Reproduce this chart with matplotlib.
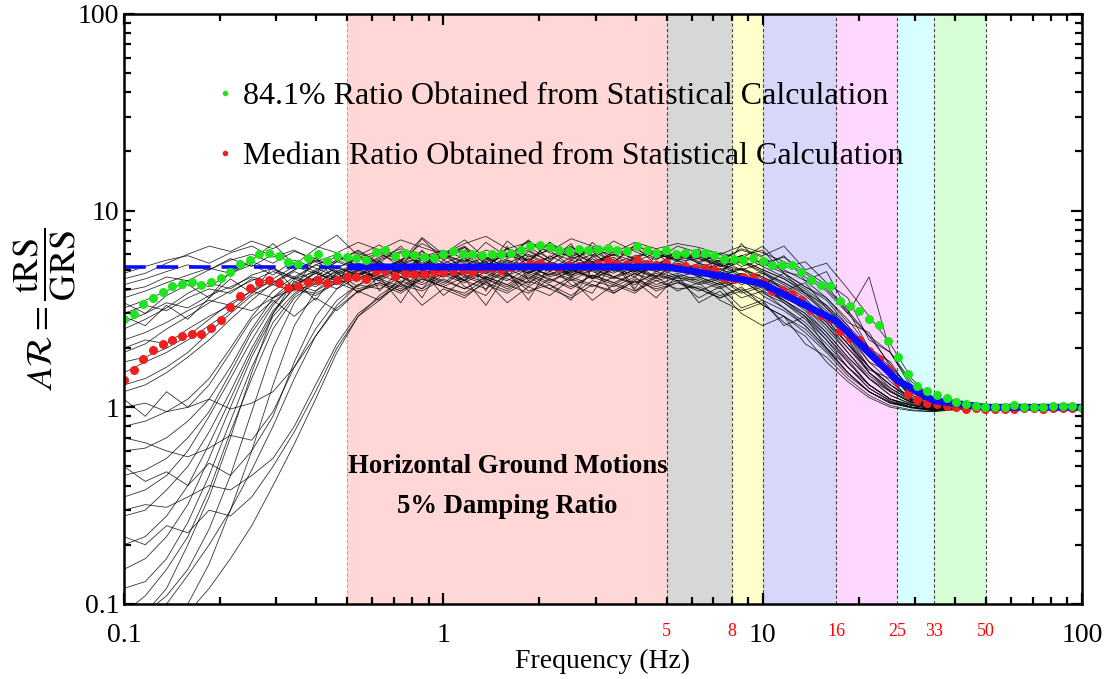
import numpy as np
import matplotlib
matplotlib.use("Agg")
import matplotlib.pyplot as plt
from matplotlib.lines import Line2D
from matplotlib.ticker import LogLocator, NullFormatter

plt.rcParams['font.family'] = ['Liberation Serif', 'DejaVu Serif']
plt.rcParams['mathtext.fontset'] = 'stix'

# frequency grids (Hz)
freq_dots = np.logspace(-1, 2, 100)
freq_rec = np.logspace(-1, 2, 46)

# 84.1% ratio (green)
ratio_841 = [2.80, 2.99, 3.34, 3.61, 3.84, 4.12, 4.24, 4.31, 4.17, 4.34,
             4.53, 4.87, 5.38, 5.63, 5.99, 6.09, 5.91, 5.50, 5.35, 5.74,
             5.99, 5.54, 5.86, 5.80, 5.74, 5.63, 6.16, 6.30, 5.90, 6.09,
             5.93, 5.81, 5.77, 6.04, 6.23, 6.04, 6.04, 5.93, 6.04, 6.04,
             6.10, 6.30, 6.60, 6.70, 6.50, 6.30, 6.20, 6.40, 6.30, 6.41,
             6.49, 6.28, 6.21, 6.61, 6.28, 6.12, 6.28, 5.99, 6.12, 6.12,
             6.12, 5.93, 5.70, 5.70, 5.63, 5.74, 5.54, 5.32, 5.32, 5.27,
             4.87, 4.46, 4.17, 4.12, 3.46, 3.29, 3.08, 2.80, 2.63, 2.17,
             1.80, 1.47, 1.28, 1.21, 1.15, 1.11, 1.06, 1.04, 1.015, 1.00,
             1.00, 1.00, 1.03, 1.00, 1.00, 1.00, 1.02, 1.01, 1.01, 0.995]

# median ratio (red)
ratio_med = [1.38, 1.55, 1.75, 1.95, 2.09, 2.21, 2.30, 2.37, 2.37, 2.54,
             2.79, 3.23, 3.68, 4.06, 4.34, 4.46, 4.29, 4.06, 4.12, 4.34,
             4.46, 4.29, 4.46, 4.60, 4.60, 4.51, 4.93, 4.93, 4.67, 4.82,
             4.78, 4.74, 4.87, 4.87, 4.95, 5.00, 4.90, 5.05, 5.10, 5.00,
             5.15, 5.20, 5.35, 5.40, 5.20, 5.10, 5.30, 5.25, 5.20, 5.38,
             5.52, 5.38, 5.38, 5.59, 5.38, 5.27, 5.44, 5.17, 5.21, 5.13,
             5.13, 4.97, 4.54, 4.51, 4.60, 4.60, 4.34, 3.89, 3.97, 3.78,
             3.53, 3.11, 2.94, 2.82, 2.43, 2.26, 2.19, 1.93, 1.77, 1.57,
             1.34, 1.17, 1.09, 1.05, 1.035, 1.015, 1.00, 0.985, 0.995, 0.985,
             0.985, 0.985, 0.985, 0.99, 0.99, 0.985, 0.99, 0.99, 0.99, 0.99]

# target ratio (blue)
target_f = [0.1, 0.5, 5, 8, 10, 17, 26.4, 34.4, 50, 100]
target_r = [5.17, 5.17, 5.17, 4.56, 4.25, 2.75, 1.37, 1.08, 1.0, 1.0]

# individual records (black), sampled on freq_rec
records = [
    [4.8, 5.2, 5.6, 5.9, 5.4, 6.1, 6.6, 5.8, 6.3, 5.5, 6.0, 5.2, 5.8, 6.4, 5.1, 5.9, 6.6, 5.3, 6.0, 5.5, 6.9, 5.7, 6.2, 5.0, 5.8, 6.3, 5.6, 5.9, 5.2, 5.5, 4.8, 4.2, 3.6, 2.7, 2.1, 1.6, 1.3, 1.12, 1.04, 1.01, 1.0, 0.99, 1.0, 1.01, 1.0, 1.0],
    [4.2, 4.5, 4.9, 5.3, 5.0, 5.7, 5.2, 6.0, 5.4, 4.9, 5.6, 6.2, 5.3, 4.8, 5.7, 6.1, 5.0, 5.5, 4.6, 5.9, 5.2, 6.3, 5.4, 5.8, 4.9, 5.3, 6.0, 5.4, 4.9, 5.6, 5.0, 4.5, 3.8, 3.1, 2.3, 1.7, 1.35, 1.1, 1.03, 1.0, 1.0, 1.01, 0.99, 1.0, 1.0, 1.0],
    [3.6, 3.9, 4.3, 4.7, 5.1, 4.8, 5.5, 5.0, 4.6, 5.3, 4.9, 4.4, 5.0, 5.6, 4.7, 5.2, 4.4, 5.8, 5.1, 4.5, 5.4, 4.9, 5.7, 5.0, 4.6, 5.5, 5.2, 4.8, 5.3, 4.6, 4.9, 3.9, 4.3, 3.2, 2.5, 1.9, 1.45, 1.15, 1.05, 1.02, 1.0, 1.0, 1.01, 0.99, 1.0, 1.0],
    [3.2, 3.5, 3.9, 4.4, 4.1, 4.8, 5.3, 4.7, 5.6, 5.1, 4.6, 5.0, 4.5, 5.1, 5.7, 4.8, 5.3, 4.4, 5.0, 6.2, 5.5, 4.7, 5.2, 6.0, 5.1, 4.6, 5.4, 5.0, 4.4, 4.8, 4.1, 3.5, 3.0, 2.4, 1.8, 1.4, 1.2, 1.06, 1.0, 0.99, 1.0, 1.0, 1.0, 1.0, 0.99, 1.0],
    [3.0, 3.3, 3.1, 3.6, 4.0, 3.8, 4.5, 4.2, 4.9, 4.4, 5.2, 4.7, 5.4, 4.9, 4.3, 5.6, 5.0, 4.6, 5.3, 4.8, 5.9, 5.2, 4.5, 5.0, 5.6, 4.9, 5.3, 4.6, 4.9, 4.2, 4.5, 3.8, 3.3, 2.9, 2.2, 1.5, 1.25, 1.08, 1.02, 1.0, 1.01, 1.0, 1.0, 0.99, 1.0, 1.0],
    [2.7, 3.0, 3.4, 3.2, 3.7, 4.1, 4.6, 4.3, 5.0, 5.5, 4.8, 5.3, 4.9, 5.5, 6.0, 5.2, 5.7, 5.1, 6.4, 5.6, 5.0, 5.8, 6.5, 5.4, 5.9, 6.1, 5.5, 5.7, 5.3, 5.0, 5.4, 4.8, 4.1, 3.5, 2.6, 2.0, 1.7, 1.18, 1.06, 1.02, 1.01, 1.0, 1.0, 1.0, 1.0, 1.0],
    [2.5, 2.8, 3.2, 3.8, 4.3, 4.0, 4.7, 5.1, 4.5, 4.9, 4.2, 4.8, 4.4, 4.0, 4.7, 4.2, 4.9, 4.5, 4.1, 4.8, 4.3, 5.0, 4.6, 4.2, 4.8, 4.4, 4.7, 4.3, 4.6, 3.9, 4.2, 3.4, 2.9, 2.2, 1.7, 1.3, 1.1, 1.03, 0.98, 0.99, 1.0, 1.0, 0.99, 1.0, 1.0, 1.0],
    [3.9, 4.1, 4.6, 4.4, 5.0, 5.6, 6.0, 5.4, 6.2, 5.7, 5.1, 5.8, 6.2, 5.6, 6.8, 6.0, 5.5, 6.3, 5.8, 7.0, 6.1, 5.6, 6.4, 5.9, 6.6, 6.0, 5.7, 6.1, 5.7, 6.3, 5.8, 5.0, 4.4, 3.6, 2.8, 2.0, 1.6, 1.1, 1.03, 1.0, 1.0, 1.0, 1.01, 1.0, 1.0, 1.0],
    [2.2, 2.4, 2.7, 3.1, 3.5, 3.3, 3.9, 4.4, 4.1, 4.8, 4.4, 5.0, 4.6, 5.2, 4.8, 4.3, 5.0, 5.5, 4.7, 5.1, 4.4, 4.9, 5.4, 4.6, 5.0, 4.5, 4.8, 4.4, 4.0, 4.5, 3.7, 3.2, 2.6, 2.0, 1.5, 1.2, 1.06, 1.0, 0.98, 0.99, 1.0, 1.0, 1.0, 1.0, 1.0, 1.0],
    [1.9, 2.1, 2.5, 2.9, 3.4, 3.9, 4.4, 4.9, 4.5, 5.3, 5.8, 5.2, 5.7, 6.2, 5.4, 5.9, 6.5, 5.6, 6.1, 5.3, 5.8, 6.6, 5.5, 6.0, 6.4, 5.7, 6.1, 5.5, 6.0, 5.2, 5.6, 4.9, 4.6, 3.9, 3.0, 2.3, 1.9, 1.3, 1.08, 1.03, 1.01, 1.0, 1.0, 1.0, 1.0, 1.0],
    [1.7, 1.8, 2.0, 2.3, 2.8, 3.4, 3.9, 3.6, 4.2, 3.9, 4.5, 4.0, 4.3, 3.9, 4.6, 4.1, 3.8, 4.5, 4.0, 4.7, 4.2, 3.7, 4.4, 4.1, 4.6, 3.9, 4.3, 4.0, 3.6, 4.1, 3.3, 2.9, 2.4, 1.9, 1.45, 1.2, 1.05, 1.0, 0.97, 0.98, 0.99, 1.0, 1.0, 1.0, 1.0, 1.0],
    [1.5, 1.7, 1.9, 2.2, 2.6, 3.1, 3.8, 4.5, 5.2, 4.8, 5.5, 5.0, 5.5, 4.9, 5.3, 5.9, 5.1, 4.8, 5.6, 5.2, 4.7, 5.4, 6.0, 5.3, 4.9, 5.5, 5.1, 5.3, 4.8, 5.1, 4.5, 4.0, 3.3, 2.7, 2.0, 1.55, 1.4, 1.07, 1.02, 1.0, 1.0, 0.99, 1.0, 1.0, 1.0, 1.0],
    [1.3, 1.4, 1.6, 1.9, 2.4, 3.0, 3.7, 4.2, 3.9, 4.6, 4.2, 4.7, 5.1, 4.6, 5.3, 4.9, 4.4, 5.1, 5.6, 4.9, 5.2, 4.6, 5.0, 5.4, 4.8, 5.2, 5.0, 4.7, 5.1, 4.4, 4.8, 4.3, 3.7, 3.0, 2.3, 1.6, 1.3, 1.1, 1.02, 1.01, 1.0, 1.0, 1.0, 0.99, 1.0, 1.0],
    [2.0, 2.2, 2.1, 2.5, 2.9, 3.3, 3.1, 3.6, 4.0, 3.8, 4.3, 4.8, 4.4, 5.0, 4.6, 5.2, 4.7, 4.3, 4.9, 5.3, 4.6, 5.0, 4.5, 5.1, 4.7, 5.2, 4.6, 4.9, 4.3, 4.7, 4.0, 3.6, 3.2, 2.5, 1.9, 1.4, 1.15, 1.03, 0.99, 1.0, 1.0, 1.0, 1.0, 1.0, 0.99, 1.0],
    [1.2, 1.3, 1.5, 1.8, 2.2, 2.8, 3.5, 4.3, 5.0, 5.6, 5.1, 5.7, 6.0, 5.4, 5.8, 6.3, 5.7, 5.2, 6.1, 5.6, 6.4, 5.8, 5.3, 6.2, 5.7, 6.3, 5.9, 5.8, 5.4, 5.9, 5.2, 4.6, 4.0, 3.3, 2.5, 1.8, 1.55, 1.12, 1.04, 1.01, 1.0, 1.0, 1.0, 1.0, 1.0, 1.0],
    [0.8, 0.85, 0.95, 1.1, 1.4, 2.0, 2.9, 3.9, 4.6, 4.2, 5.0, 4.5, 4.9, 5.4, 4.7, 5.2, 4.6, 5.0, 5.5, 4.8, 5.3, 4.7, 5.1, 4.6, 5.2, 4.9, 5.3, 5.0, 4.5, 4.8, 4.2, 3.7, 3.1, 2.4, 1.8, 1.4, 1.15, 1.04, 1.0, 1.0, 1.0, 1.0, 1.0, 1.0, 1.0, 1.0],
    [0.6, 0.62, 0.7, 0.85, 1.1, 1.6, 2.5, 3.6, 4.5, 4.1, 4.7, 5.3, 4.8, 5.3, 5.8, 5.1, 5.6, 4.9, 5.4, 6.0, 5.3, 4.8, 5.5, 5.0, 5.7, 5.2, 4.9, 5.4, 5.0, 5.5, 4.9, 4.3, 3.8, 3.0, 2.2, 1.6, 1.3, 1.08, 1.02, 1.0, 0.99, 1.0, 1.0, 1.0, 1.0, 1.0],
    [0.45, 0.48, 0.55, 0.7, 0.95, 1.5, 2.4, 3.4, 4.2, 4.8, 4.4, 4.9, 4.5, 4.1, 4.8, 4.4, 4.0, 4.6, 4.2, 4.9, 4.5, 4.0, 4.7, 4.3, 4.8, 4.2, 4.6, 4.2, 4.5, 3.8, 4.1, 3.5, 2.9, 2.3, 1.7, 1.3, 1.1, 1.02, 0.98, 0.99, 1.0, 1.0, 1.0, 1.0, 1.0, 1.0],
    [0.35, 0.38, 0.45, 0.6, 0.9, 1.4, 2.2, 3.3, 4.3, 5.0, 5.6, 5.1, 5.6, 6.1, 5.3, 5.8, 6.3, 5.5, 5.9, 6.5, 5.7, 6.2, 5.4, 6.0, 5.5, 6.1, 5.8, 6.0, 5.5, 5.9, 5.4, 5.8, 4.9, 4.2, 3.0, 4.6, 1.9, 1.25, 1.05, 1.02, 1.0, 1.0, 1.0, 1.0, 1.0, 1.0],
    [0.28, 0.3, 0.38, 0.5, 0.75, 1.2, 2.0, 3.1, 4.0, 3.7, 4.3, 3.9, 4.2, 3.8, 4.5, 4.1, 3.7, 4.3, 3.9, 4.6, 4.0, 3.6, 4.2, 3.8, 4.4, 4.0, 4.3, 3.9, 4.3, 3.6, 3.9, 3.2, 2.7, 2.1, 1.6, 1.25, 1.08, 1.0, 0.97, 0.98, 0.99, 1.0, 1.0, 1.0, 1.0, 1.0],
    [0.2, 0.22, 0.28, 0.4, 0.65, 1.1, 1.9, 3.0, 4.1, 4.9, 4.5, 5.2, 5.0, 5.5, 5.0, 4.6, 5.3, 5.8, 5.1, 5.4, 4.9, 5.6, 5.2, 4.8, 5.5, 5.0, 5.4, 5.1, 5.6, 5.0, 4.6, 4.1, 3.5, 2.8, 2.1, 1.5, 1.2, 1.06, 1.01, 1.0, 1.0, 1.0, 1.0, 1.0, 1.0, 1.0],
    [0.15, 0.17, 0.22, 0.32, 0.55, 1.0, 1.8, 2.9, 3.8, 4.4, 4.0, 4.6, 4.7, 4.3, 5.0, 4.6, 5.2, 4.8, 4.4, 5.1, 4.7, 5.3, 4.9, 4.5, 5.0, 4.6, 5.1, 4.6, 4.2, 4.7, 4.3, 3.9, 3.4, 2.6, 1.9, 1.45, 1.2, 1.05, 1.0, 1.0, 1.0, 1.0, 0.99, 1.0, 1.0, 1.0],
    [0.12, 0.13, 0.17, 0.26, 0.45, 0.85, 1.6, 2.7, 3.7, 4.5, 5.1, 4.7, 5.3, 4.8, 5.6, 5.1, 4.7, 5.4, 5.0, 5.7, 5.2, 4.8, 5.5, 5.1, 5.8, 5.3, 5.0, 5.2, 4.7, 5.0, 4.4, 3.8, 3.2, 2.6, 2.0, 1.5, 1.22, 1.06, 1.01, 1.0, 1.0, 1.0, 1.0, 1.0, 1.0, 1.0],
    [0.09, 0.11, 0.15, 0.22, 0.38, 0.75, 1.4, 2.5, 3.6, 4.3, 4.9, 5.4, 5.0, 5.6, 6.2, 5.4, 5.9, 5.2, 5.7, 6.3, 5.5, 5.0, 5.8, 6.4, 5.6, 5.2, 5.9, 5.7, 5.2, 5.6, 5.0, 4.5, 3.9, 3.2, 2.4, 1.7, 1.5, 1.1, 1.03, 1.01, 1.0, 1.0, 1.0, 1.0, 1.0, 1.0],
    [0.06, 0.075, 0.1, 0.14, 0.2, 0.3, 0.48, 0.8, 1.4, 2.3, 3.3, 4.2, 4.0, 4.6, 4.2, 4.8, 4.4, 4.0, 4.7, 4.3, 4.9, 4.5, 4.1, 4.6, 4.3, 4.8, 4.4, 4.5, 4.1, 4.4, 3.8, 3.4, 2.8, 2.2, 1.6, 1.25, 1.07, 1.0, 0.97, 0.99, 1.0, 1.0, 1.0, 1.0, 1.0, 1.0],
    [0.3, 0.32, 0.31, 0.35, 0.4, 0.38, 0.45, 0.55, 0.8, 1.3, 2.1, 3.0, 3.6, 4.2, 3.9, 4.5, 4.0, 4.6, 4.2, 3.8, 4.5, 4.1, 4.7, 4.3, 3.9, 4.4, 4.0, 4.1, 3.7, 4.0, 3.5, 3.1, 2.6, 2.0, 1.5, 1.2, 1.05, 0.99, 0.96, 0.98, 1.0, 1.0, 1.0, 1.0, 1.0, 1.0],
    [0.05, 0.06, 0.07, 0.09, 0.12, 0.17, 0.25, 0.4, 0.65, 1.1, 1.9, 2.9, 3.7, 4.4, 4.0, 4.7, 4.3, 4.9, 4.5, 4.1, 4.8, 4.4, 5.0, 4.6, 4.2, 4.9, 4.5, 4.6, 4.2, 4.5, 3.9, 3.5, 3.0, 2.3, 1.75, 1.3, 1.1, 1.02, 0.99, 1.0, 1.0, 1.0, 1.0, 1.0, 1.0, 1.0],
    [1.0, 1.05, 0.95, 1.0, 1.1, 0.98, 1.05, 1.2, 1.6, 2.3, 3.2, 3.9, 4.3, 3.9, 4.5, 4.1, 4.6, 4.2, 3.8, 4.4, 4.0, 4.6, 4.2, 3.9, 4.5, 4.1, 4.4, 4.0, 3.6, 3.9, 3.3, 2.9, 2.5, 1.95, 1.5, 1.2, 1.05, 1.0, 0.97, 0.98, 0.99, 1.0, 1.0, 1.0, 1.0, 1.0],
    [0.7, 0.66, 0.6, 0.56, 0.62, 0.72, 0.68, 0.95, 1.6, 2.5, 3.5, 4.2, 4.6, 5.1, 4.7, 5.4, 4.9, 4.5, 5.2, 4.8, 5.5, 5.0, 4.6, 5.3, 4.9, 5.5, 5.1, 5.0, 4.6, 5.1, 4.6, 4.0, 3.4, 2.8, 2.1, 1.6, 1.25, 1.08, 1.02, 1.0, 1.0, 1.0, 1.0, 1.0, 1.0, 1.0],
    [4.5, 4.8, 5.4, 6.0, 6.6, 6.2, 7.0, 6.4, 7.3, 6.6, 6.1, 6.9, 6.3, 7.1, 6.5, 6.0, 6.8, 7.4, 6.4, 6.9, 6.2, 7.2, 6.6, 6.1, 6.9, 6.4, 6.8, 6.5, 6.0, 6.6, 6.1, 5.5, 4.8, 4.0, 3.1, 2.3, 1.65, 1.2, 1.06, 1.02, 1.01, 1.0, 1.0, 1.0, 1.0, 1.0],
    [0.04, 0.05, 0.07, 0.1, 0.16, 0.3, 0.6, 1.3, 2.6, 3.9, 4.8, 4.1, 5.6, 4.2, 6.3, 4.6, 5.9, 3.9, 6.6, 4.4, 5.5, 6.8, 4.5, 5.7, 4.0, 6.1, 5.0, 6.4, 4.6, 6.8, 5.2, 5.9, 4.4, 4.9, 3.1, 2.0, 1.5, 1.2, 1.05, 1.0, 1.02, 0.98, 1.0, 1.0, 1.0, 1.0],
    [2.9, 2.6, 3.3, 2.8, 3.6, 4.5, 3.8, 5.2, 4.0, 5.8, 4.3, 6.1, 3.9, 5.0, 3.6, 5.4, 4.1, 3.7, 4.9, 3.5, 5.3, 4.2, 3.8, 5.5, 3.9, 4.7, 4.4, 3.6, 4.1, 3.2, 3.5, 2.6, 2.9, 2.0, 1.6, 1.3, 1.1, 1.0, 0.96, 0.99, 1.0, 1.0, 1.0, 0.99, 1.0, 1.0],
    [0.5, 0.42, 0.47, 0.4, 0.52, 0.45, 0.6, 0.9, 1.7, 2.9, 4.0, 5.0, 6.2, 5.1, 7.2, 5.6, 6.5, 5.0, 7.0, 5.8, 6.3, 5.2, 6.9, 5.5, 6.6, 5.3, 6.2, 5.4, 6.1, 5.7, 6.6, 5.1, 5.5, 4.3, 3.6, 2.2, 1.9, 1.35, 1.12, 1.04, 1.01, 1.0, 1.0, 1.0, 1.0, 1.0],
    [0.07, 0.09, 0.12, 0.2, 0.35, 0.7, 1.5, 3.0, 4.4, 3.5, 4.9, 3.8, 4.6, 3.4, 5.0, 3.7, 4.5, 3.3, 4.8, 3.9, 4.2, 3.5, 5.1, 3.8, 4.4, 3.6, 4.7, 3.4, 3.9, 3.0, 2.6, 2.9, 2.1, 1.8, 1.4, 1.15, 1.02, 0.97, 0.95, 0.98, 0.99, 1.0, 1.0, 1.0, 1.0, 1.0],
    [3.4, 3.0, 3.7, 4.2, 3.6, 4.9, 5.6, 6.8, 5.3, 6.4, 7.5, 5.9, 6.7, 5.5, 7.3, 6.0, 5.4, 6.9, 5.8, 7.1, 5.6, 6.5, 5.9, 7.0, 6.2, 5.6, 6.6, 6.1, 5.5, 6.4, 5.9, 6.6, 5.0, 5.4, 4.0, 2.9, 2.1, 1.4, 1.1, 1.03, 1.01, 1.0, 1.0, 1.0, 1.0, 1.0],
    [1.1, 0.9, 1.2, 1.0, 1.3, 1.9, 2.8, 3.5, 2.9, 3.6, 3.1, 3.9, 3.5, 4.3, 3.3, 4.0, 3.6, 4.4, 3.4, 4.1, 3.7, 4.5, 3.5, 4.2, 3.8, 4.6, 3.9, 4.3, 3.5, 3.1, 3.4, 2.7, 2.3, 1.7, 1.35, 1.12, 1.0, 0.96, 0.95, 0.97, 0.99, 1.0, 1.0, 1.0, 1.0, 1.0],
    [0.22, 0.2, 0.25, 0.23, 0.3, 0.28, 0.35, 0.5, 0.75, 1.2, 2.0, 2.9, 3.5, 4.6, 4.0, 5.3, 4.4, 5.7, 4.8, 4.2, 5.5, 4.6, 5.9, 4.9, 5.3, 4.6, 5.6, 4.9, 5.4, 4.7, 4.2, 4.8, 3.8, 3.3, 2.6, 1.8, 1.45, 1.15, 1.06, 1.02, 1.0, 1.0, 1.0, 1.0, 1.0, 1.0],
    [0.08, 0.09, 0.11, 0.15, 0.24, 0.45, 0.95, 2.0, 3.4, 4.6, 5.5, 6.3, 5.4, 6.6, 5.2, 6.0, 7.1, 5.7, 6.4, 5.5, 6.9, 5.9, 6.3, 5.4, 6.7, 6.0, 5.6, 6.2, 5.3, 5.9, 6.3, 4.8, 4.1, 3.6, 2.7, 2.4, 1.6, 1.25, 1.08, 1.03, 1.0, 1.0, 1.0, 1.0, 1.0, 1.0],
]

# frequency bands
band_edges = [0.5, 5, 8, 10, 17, 26.4, 34.4, 50]
band_colors = ['#ffd7d7', '#d7d7d7', '#ffffcc', '#d7d7fa', '#fdd7ff', '#d7ffff', '#d7fdd7']
label_f = [5, 8, 17, 26.4, 34.4, 50]
band_labels = ['5', '8', '16', '25', '33', '50']

fig = plt.figure(figsize=(11.12, 6.79), dpi=100)
ax = fig.add_axes([0.1115, 0.1105, 0.8615, 0.869])

for i in range(len(band_colors)):
    ax.axvspan(band_edges[i], band_edges[i + 1], color=band_colors[i], lw=0, zorder=0)
for i, e in enumerate(band_edges):
    ax.axvline(e, color='#aaaaaa' if i == 0 else '#444444', lw=0.8, ls=(0, (3, 2)), zorder=1)

for rec in records:
    ax.plot(freq_rec, rec, color='black', lw=0.6, alpha=0.8, zorder=2)

ax.plot(freq_dots, ratio_med, 'o', color='#f01e1e', ms=6.5, mew=0, zorder=3)
# target spectrum ratio: dashed below 0.5 Hz, solid above
ax.plot(target_f[:2], target_r[:2], color='#0a0aff', lw=2.6, dashes=(6, 3), zorder=4)
ax.plot(target_f[1:], target_r[1:], color='#0a0aff', lw=5.0, zorder=4,
        solid_capstyle='butt')
ax.plot(freq_dots, ratio_841, 'o', color='#1ee61e', ms=6.5, mew=0, zorder=5)

ax.set_xscale('log')
ax.set_yscale('log')
ax.set_xlim(0.1, 100)
ax.set_ylim(0.1, 100)

ax.set_xticks([0.1, 1, 10, 100])
ax.set_xticklabels(['0.1', '1', '10', '100'])
ax.set_yticks([0.1, 1, 10, 100])
ax.set_yticklabels(['0.1', '1', '10', '100'])
ax.xaxis.set_minor_locator(LogLocator(base=10, subs=np.arange(2, 10)))
ax.yaxis.set_minor_locator(LogLocator(base=10, subs=np.arange(2, 10)))
ax.xaxis.set_minor_formatter(NullFormatter())
ax.yaxis.set_minor_formatter(NullFormatter())
ax.tick_params(which='both', direction='in', top=True, right=True, labelsize=20, width=1.6)
ax.tick_params(which='major', length=8)
ax.tick_params(which='minor', length=5)
ax.tick_params(axis='x', pad=14)
for s in ax.spines.values():
    s.set_linewidth(1.8)
    s.set_zorder(6)

for f, lab in zip(label_f, band_labels):
    ax.text(f, -0.047, lab, color='red', fontsize=13, ha='center', va='center',
            transform=ax.get_xaxis_transform())

ax.set_xlabel('Frequency (Hz)', fontsize=20, labelpad=0)
ax.set_ylabel(r'$A\mathcal{R}=\dfrac{\mathrm{tRS}}{\mathrm{GRS}}$', fontsize=26, labelpad=0)

ax.text(1.59, 0.50, 'Horizontal Ground Motions', fontsize=19.2, fontweight='bold',
        ha='center', va='center', zorder=7)
ax.text(1.59, 0.314, '5% Damping Ratio', fontsize=19.2, fontweight='bold',
        ha='center', va='center', zorder=7)

handles = [Line2D([], [], ls='none', marker='o', color='#1ee61e', ms=4, mew=0),
           Line2D([], [], ls='none', marker='o', color='#f01e1e', ms=4, mew=0)]
ax.legend(handles, ['84.1% Ratio Obtained from Statistical Calculation',
                    'Median Ratio Obtained from Statistical Calculation'],
          loc='upper left', bbox_to_anchor=(0.099, 0.885), frameon=False,
          fontsize=23, handlelength=0.4, handletextpad=0.36, labelspacing=0.95,
          borderpad=0, borderaxespad=0)

fig.savefig('out.png', dpi=100)
